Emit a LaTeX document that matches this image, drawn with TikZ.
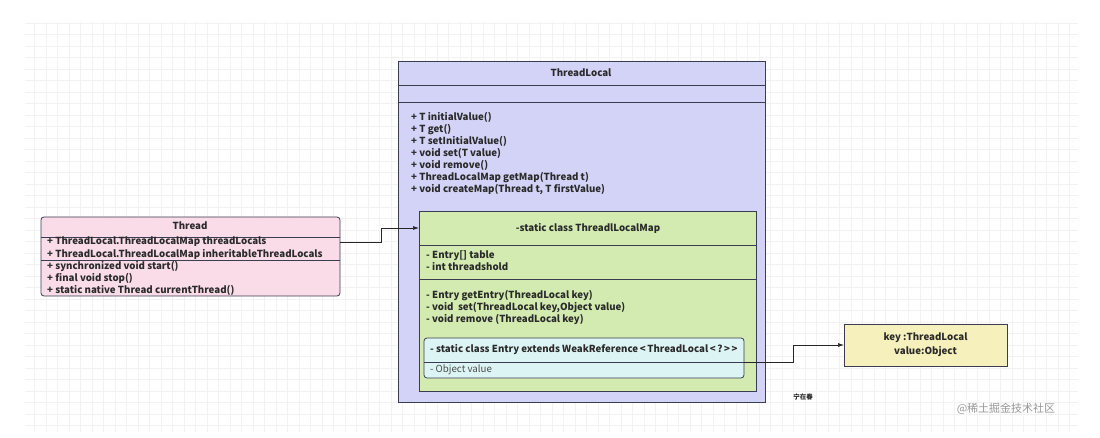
\documentclass[tikz,border=0pt]{standalone}
\usepackage{fontspec}
\setmainfont[Ligatures=NoCommon]{Noto Sans CJK SC}
\usetikzlibrary{arrows.meta}
\definecolor{tlfill}{HTML}{D2D3F7}
\definecolor{mapfill}{HTML}{D3EBB0}
\definecolor{entryfill}{HTML}{DDF4F4}
\definecolor{thrfill}{HTML}{F9DCE8}
\definecolor{keyfill}{HTML}{F6F0BC}
\definecolor{edge}{HTML}{3C3C50}
\definecolor{txt}{HTML}{2A2A2A}
\begin{document}
\begin{tikzpicture}[x=1pt,y=-1pt,
  box/.style={draw=edge,line width=0.8pt,inner sep=0pt,outer sep=0pt,anchor=north west},
  lines/.style={inner sep=0pt,anchor=north west,align=left,text=txt,font=\fontsize{9.7}{12}\selectfont\bfseries},
  ctext/.style={inner sep=0pt,text=txt,font=\fontsize{9.7}{14}\selectfont\bfseries,align=center},
  sep/.style={draw=edge,line width=0.8pt},
  arrow/.style={draw=black!85,line width=0.7pt,-{Latex[length=6pt,width=4pt]}}]
\useasboundingbox (0,0) rectangle (1100,438);
\fill[white] (0,0) rectangle (1100,438);
% faint grid
\draw[black!5,line width=0.4pt,step=11.5pt] (25,22) grid (1078,432);

% ThreadLocal outer box
\node[box,fill=tlfill,minimum width=367pt,minimum height=341pt] (tl) at (398,61) {};
\draw[sep] (398,85) -- (765,85);
\draw[sep] (398,102) -- (765,102);
\node[ctext] (tltitle) at (581,73) {ThreadLocal};
\node[lines] (tlm) at (411,112) {+ T initialValue()\\+ T get()\\+ T setInitialValue()\\+ void set(T value)\\+ void remove()\\+ ThreadLocalMap getMap(Thread t)\\+ void createMap(Thread t, T firstValue)};

% ThreadlLocalMap green box
\node[box,fill=mapfill,minimum width=337pt,minimum height=180pt] (map) at (419,211) {};
\draw[sep] (419,245) -- (756,245);
\draw[sep] (419,279) -- (756,279);
\node[ctext] (maptitle) at (588,228) {-static class ThreadlLocalMap};
\node[lines] (mapf) at (426,250) {- Entry[] table\\- int threadshold};
\node[lines] (mapm) at (426,290) {- Entry getEntry(ThreadLocal key)\\- void\ \ set(ThreadLocal key,Object value)\\- void remove (ThreadLocal key)};

% Entry box
\node[box,fill=entryfill,rounded corners=3pt,minimum width=320pt,minimum height=40pt] (entry) at (424,338) {};
\draw[sep,line width=0.6pt] (424,362) -- (744,362);
\node[lines,anchor=west] (entryt) at (430,350) {- static class Entry extends WeakReference\,{<}\,ThreadLocal\,{<}\,?\,{>}\,{>}};
\node[lines,anchor=west,font=\fontsize{9.7}{12}\selectfont,text=black!70] (entryv) at (430,370) {- Object value};

% Thread box
\node[box,fill=thrfill,rounded corners=3pt,minimum width=299pt,minimum height=79pt] (thr) at (41,217) {};
\draw[sep] (41,237) -- (340,237);
\draw[sep] (41,260) -- (340,260);
\node[ctext] (thrtitle) at (190,226) {Thread};
\node[lines,anchor=west] (f1) at (47,242) {+ ThreadLocal.ThreadLocalMap threadLocals};
\node[lines,anchor=west] (f2) at (47,254) {+ ThreadLocal.ThreadLocalMap inheritableThreadLocals};
\node[lines] (thrm) at (47,261) {+ synchronized void start()\\+ final void stop()\\+ static native Thread currentThread()};

% key box
\node[box,fill=keyfill,minimum width=163pt,minimum height=42pt,anchor=north west] (key) at (844,324) {};
\node[ctext] (keyt) at (key.center) {key :ThreadLocal\\value:Object};

% connectors
\coordinate (es) at (744,362);
\draw[arrow] (f1.west -| thr.east) -- ++(41,0) |- (map.west |- maptitle);
\draw[arrow] (es) -- ++(49,0) |- (key.west);

% labels
\node[inner sep=0pt,font=\fontsize{6.5}{8}\selectfont\bfseries,text=txt] (author) at (803,397) {宁在春};
\node[inner sep=0pt,font=\fontsize{11}{13}\selectfont,text=black!40] (wm) at (1006,409) {@稀土掘金技术社区};
\end{tikzpicture}
\end{document}
